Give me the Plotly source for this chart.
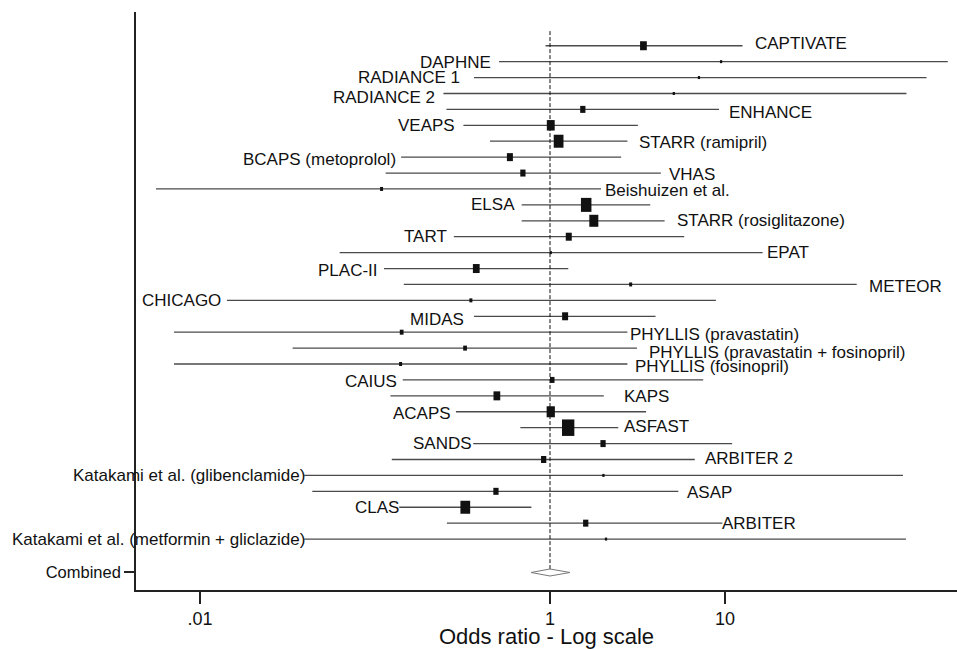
import numpy as np
import plotly.graph_objects as go

# ---------------- data ----------------
studies = ["CAPTIVATE", "DAPHNE", "RADIANCE 1", "RADIANCE 2", "ENHANCE", "VEAPS",
           "STARR (ramipril)", "BCAPS (metoprolol)", "VHAS", "Beishuizen et al.", "ELSA",
           "STARR (rosiglitazone)", "TART", "EPAT", "PLAC-II", "METEOR", "CHICAGO", "MIDAS",
           "PHYLLIS (pravastatin)", "PHYLLIS (pravastatin + fosinopril)", "PHYLLIS (fosinopril)",
           "CAIUS", "KAPS", "ACAPS", "ASFAST", "SANDS", "ARBITER 2",
           "Katakami et al. (glibenclamide)", "ASAP", "CLAS", "ARBITER",
           "Katakami et al. (metformin + gliclazide)"]
odds_ratio = [3.42, 9.5, 7.1, 5.1, 1.54, 1.01, 1.12, 0.59, 0.70, 0.109, 1.61,
              1.78, 1.28, 1.01, 0.379, 2.89, 0.353, 1.22, 0.142, 0.327, 0.140,
              1.03, 0.497, 1.01, 1.27, 2.01, 0.92, 2.02, 0.491, 0.328, 1.60, 2.09]
ci_low = [0.943, 0.511, 0.368, 0.246, 0.256, 0.32, 0.454, 0.141, 0.115, 0.0056, 0.689,
          0.689, 0.282, 0.0628, 0.1125, 0.146, 0.01425, 0.368, 0.0071, 0.0338, 0.0071,
          0.144, 0.1225, 0.290, 0.677, 0.364, 0.1247, 0.0394, 0.0438, 0.1375, 0.2575, 0.0394]
ci_high = [12.6, 187.6, 141.9, 108.9, 9.25, 3.18, 2.77, 2.55, 4.30, 1.956, 3.74,
           4.52, 5.85, 16.4, 1.272, 56.6, 8.87, 4.01, 2.77, 3.14, 2.77,
           7.51, 2.03, 3.54, 2.456, 10.99, 6.72, 104.0, 5.41, 0.783, 9.66, 108.2]
weights = [9, 3, 3, 3, 7, 10.5, 13, 8, 7, 4, 14, 12, 8, 3, 9, 4, 4, 8, 5, 5, 4,
           6, 9, 11, 16.5, 7, 7, 3, 7, 13, 7, 3]

combined_label = "Combined"
combined_or = 1.0
combined_low = 0.78
combined_high = 1.30

x_tick_vals = [0.01, 1, 10]
x_tick_text = [".01", "1", "10"]
x_title = "Odds ratio - Log scale"

# ---------------- label styling (side, gap px, vertical shift px) ----------------
label_side = ["R", "L", "L", "L", "R", "L", "R", "L", "R", "R", "L",
              "R", "L", "R", "L", "R", "L", "L", "R", "R", "R",
              "L", "R", "L", "R", "L", "R", "L", "R", "L", "R", "L"]
label_gap = [12, 8, 14, 8, 10, 8, 12, 5, 8, 4, 7,
             12, 7, 4, 6, 12, 6, 10, 3, 12, 8,
             6, 20, 5, 6, 1, 10, -1, 9, 0, 0, -1]
label_dy = [2, -1, 0, -4, -3, 0, -1, -2, -1, -2, 0,
            0, 0, 0, -2, -2, 0, -3, -2, -4, -2,
            -2, -1, -2, 1, 0, 1, 0, -1, 0, 0, 0]

FONT = "Liberation Sans, Arial, Helvetica, sans-serif"
LABEL_SIZE = 17
X_RANGE = [-2.366, 2.326]   # log10 units

n = len(studies)
rows = list(range(n))
combined_row = n + 1.1

fig = go.Figure()

# CI lines
xs, ys = [], []
for i in rows:
    xs += [ci_low[i], ci_high[i], None]
    ys += [i, i, None]
fig.add_trace(go.Scatter(x=xs, y=ys, mode="lines",
                         line=dict(color="#4a4a4a", width=1.3),
                         hoverinfo="skip", showlegend=False))

# null line at OR = 1
fig.add_trace(go.Scatter(x=[1, 1], y=[-0.92, combined_row], mode="lines",
                         line=dict(color="#111", width=1, dash="4px,2px"),
                         hoverinfo="skip", showlegend=False))

# combined diamond
h = 0.22
fig.add_trace(go.Scatter(
    x=[combined_low, combined_or, combined_high, combined_or, combined_low],
    y=[combined_row, combined_row - h, combined_row, combined_row + h, combined_row],
    mode="lines", fill="toself", fillcolor="white",
    line=dict(color="#777", width=1), hoverinfo="skip", showlegend=False))

# invisible point markers for hover
fig.add_trace(go.Scatter(x=odds_ratio, y=rows, mode="markers",
                         marker=dict(size=1, color="rgba(0,0,0,0)"),
                         text=studies, hoverinfo="text+x", showlegend=False))

# weight boxes: drawn on an overlaid linear axis in log10 units (pixel-sized rects)
shapes = []
for i in rows:
    hgt = weights[i]
    wid = max(2.0, 0.75 * weights[i])
    shapes.append(dict(type="rect", xref="x2", yref="y",
                       xsizemode="pixel", ysizemode="pixel",
                       xanchor=float(np.log10(odds_ratio[i])), yanchor=i,
                       x0=-wid / 2, x1=wid / 2, y0=-hgt / 2, y1=hgt / 2,
                       fillcolor="#111", line=dict(width=0)))

annotations = []
for i in rows:
    if label_side[i] == "R":
        annotations.append(dict(x=np.log10(ci_high[i]), y=i, xref="x", yref="y",
                                text=studies[i], showarrow=False, xanchor="left",
                                yanchor="middle", xshift=label_gap[i] - 2, yshift=label_dy[i],
                                font=dict(family=FONT, size=LABEL_SIZE, color="#111")))
    else:
        annotations.append(dict(x=np.log10(ci_low[i]), y=i, xref="x", yref="y",
                                text=studies[i], showarrow=False, xanchor="right",
                                yanchor="middle", xshift=-(label_gap[i] - 2), yshift=label_dy[i],
                                font=dict(family=FONT, size=LABEL_SIZE, color="#111")))

fig.update_layout(
    width=957, height=649,
    margin=dict(l=136, r=0, t=12, b=59),
    paper_bgcolor="white", plot_bgcolor="white",
    shapes=shapes, annotations=annotations,
    font=dict(family=FONT, color="#111"),
    hovermode="closest",
    xaxis=dict(type="log", range=X_RANGE, automargin=False,
               tickvals=x_tick_vals, ticktext=x_tick_text,
               ticks="outside", ticklen=12, tickwidth=1.5, tickcolor="#222",
               showline=True, linecolor="#222", linewidth=1.6,
               showgrid=False, zeroline=False,
               tickfont=dict(family=FONT, size=18, color="#111"),
               title=dict(text=x_title, font=dict(family=FONT, size=22, color="#111"),
                          standoff=6)),
    xaxis2=dict(overlaying="x", side="top", range=X_RANGE, visible=False,
                showgrid=False, zeroline=False),
    yaxis=dict(range=[34.2, -2.12], tickvals=[combined_row], ticktext=[combined_label],
               automargin=False,
               ticks="outside", ticklen=10, tickwidth=1.5, tickcolor="#222",
               showline=True, linecolor="#222", linewidth=1.6,
               showgrid=False, zeroline=False,
               tickfont=dict(family=FONT, size=16.5, color="#111")),
)

fig.write_html("out.html")
